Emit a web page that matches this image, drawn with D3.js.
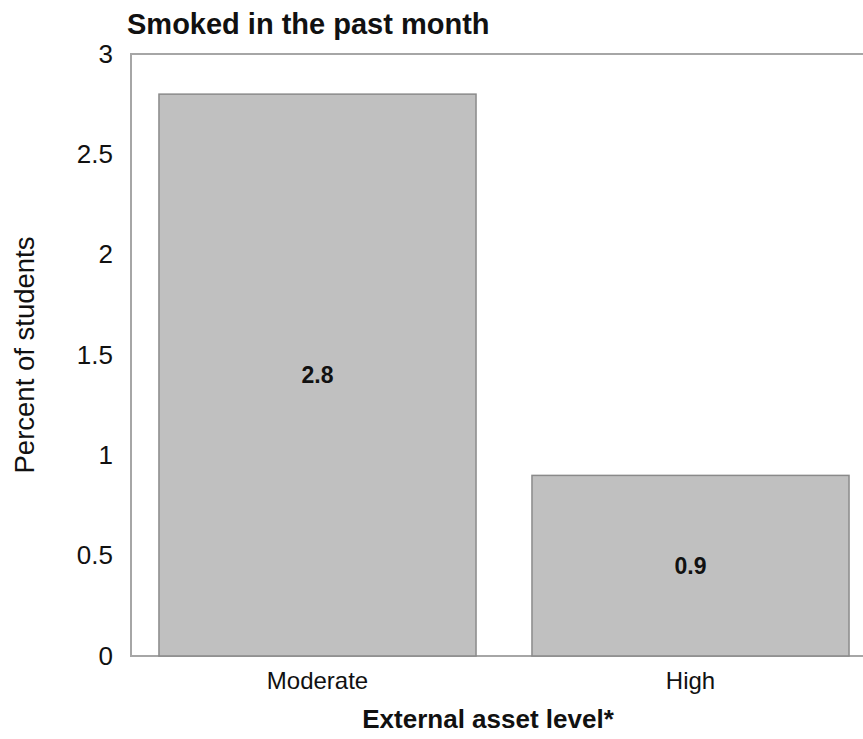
<!DOCTYPE html>
<html>
<head>
<meta charset="utf-8">
<script src="https://cdn.jsdelivr.net/npm/d3@7"></script>
<style>
  html, body { margin: 0; padding: 0; background: #fff; }
  svg { display: block; font-family: Arial, "Liberation Sans", sans-serif; }
</style>
</head>
<body>
<svg id="chart" width="863" height="739"></svg>
<script>
const categories = ["Moderate", "High"];
const values = [2.8, 0.9];
const valueLabels = ["2.8", "0.9"];
const yTicks = [0, 0.5, 1, 1.5, 2, 2.5, 3];
const yTickLabels = ["0", "0.5", "1", "1.5", "2", "2.5", "3"];
const chartTitle = "Smoked in the past month";
const xTitle = "External asset level*";
const yTitle = "Percent of students";

const svg = d3.select("#chart");
const plotL = 131, plotR = 877, plotT = 54, plotB = 656;

const x = d3.scaleBand().domain(categories).range([plotL, plotR])
  .paddingInner(0.15).paddingOuter(0.075);
const y = d3.scaleLinear().domain([0, 3]).range([plotB, plotT]);

// plot frame
svg.append("rect")
  .attr("x", plotL).attr("y", plotT)
  .attr("width", plotR - plotL).attr("height", plotB - plotT)
  .attr("fill", "none").attr("stroke", "#a6a6a6").attr("stroke-width", 2);

// bars
svg.selectAll("rect.bar").data(categories).enter().append("rect")
  .attr("class", "bar")
  .attr("x", d => x(d))
  .attr("y", (d, i) => y(values[i]))
  .attr("width", x.bandwidth())
  .attr("height", (d, i) => y(0) - y(values[i]))
  .attr("fill", "#c0c0c0")
  .attr("stroke", "#8a8a8a")
  .attr("stroke-width", 1.5);

// value labels
svg.selectAll("text.val").data(categories).enter().append("text")
  .attr("class", "val")
  .attr("x", d => x(d) + x.bandwidth() / 2)
  .attr("y", (d, i) => (y(values[i]) + y(0)) / 2)
  .attr("dy", "0.36em")
  .attr("text-anchor", "middle")
  .attr("font-weight", "bold")
  .attr("font-size", 23)
  .attr("fill", "#111")
  .text((d, i) => valueLabels[i]);

// y axis (labels only)
const yAxis = d3.axisLeft(y).tickValues(yTicks)
  .tickFormat((d, i) => yTickLabels[i]).tickSize(0).tickPadding(18);
const gy = svg.append("g").attr("transform", `translate(${plotL},0)`).call(yAxis);
gy.select(".domain").remove();
gy.selectAll("text").attr("font-size", 26).attr("fill", "#111")
  .attr("font-family", "Arial, 'Liberation Sans', sans-serif");

// x axis (labels only)
const xAxis = d3.axisBottom(x).tickSize(0).tickPadding(16);
const gx = svg.append("g").attr("transform", `translate(0,${plotB})`).call(xAxis);
gx.select(".domain").remove();
gx.selectAll("text").attr("font-size", 24).attr("fill", "#111")
  .attr("font-family", "Arial, 'Liberation Sans', sans-serif");

// titles
svg.append("text").attr("x", 127).attr("y", 34)
  .attr("font-size", 29).attr("font-weight", "bold").attr("fill", "#111")
  .text(chartTitle);

svg.append("text").attr("x", 488).attr("y", 728)
  .attr("text-anchor", "middle")
  .attr("font-size", 26).attr("font-weight", "bold").attr("fill", "#111")
  .text(xTitle);

svg.append("text")
  .attr("transform", `translate(34,${(plotT + plotB) / 2}) rotate(-90)`)
  .attr("text-anchor", "middle")
  .attr("font-size", 27.5).attr("fill", "#111")
  .text(yTitle);
</script>
</body>
</html>
